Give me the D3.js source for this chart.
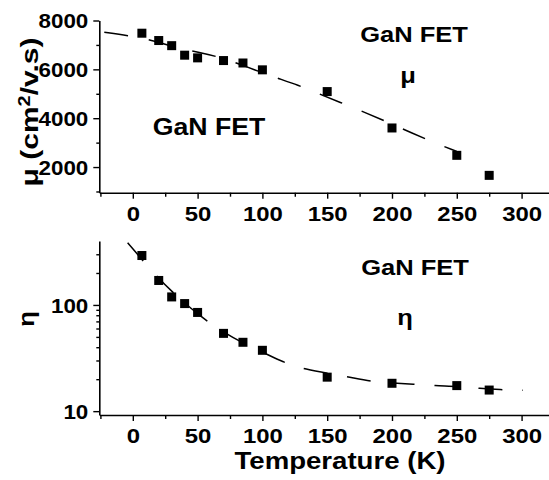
<!DOCTYPE html>
<html><head><meta charset="utf-8">
<script src="https://cdn.jsdelivr.net/npm/d3@7"></script>
<style>
body{margin:0;background:#fff;}
svg{display:block;}
text{font-family:"Liberation Sans",Arial,sans-serif;font-weight:bold;fill:#000;}
</style></head><body>
<svg id="c" width="549" height="480"></svg>
<script>
// ---- data ----
const temps = [7, 20, 30, 40, 50, 70, 85, 100, 150, 200, 250, 275];
const mobility = [7480, 7180, 6970, 6580, 6470, 6360, 6260, 5980, 5090, 3600, 2480, 1660];
const eta = [292, 170, 119, 103, 85, 54, 44.5, 37.4, 20.9, 18.3, 17.4, 15.8];
const fitTempsMu = [-22, -4, 15, 30, 52, 70, 88, 106, 129, 142, 160, 179, 197, 215, 233, 250];
const fitMu = [7520, 7380, 7200, 6930, 6690, 6460, 6100, 5740, 5330, 5030, 4650, 4240, 3830, 3400, 2990, 2640];
const fitTempsEta = [-4, 15, 30, 50, 66, 85, 100, 116, 133, 155, 168, 184, 201, 217, 233, 251, 268, 283, 301];
const fitEta = [385, 206, 133, 82, 59, 43.5, 36.2, 28.8, 24.7, 22.2, 20.8, 19.0, 18.3, 18.0, 17.4, 17.1, 16.4, 15.9, 15.7];
const xMajor = [0, 50, 100, 150, 200, 250, 300];
const xMinor = [-25, 25, 75, 125, 175, 225, 275];
const muMajor = [2000, 4000, 6000, 8000];
const muMinor = [1000, 3000, 5000, 7000];
const etaMajor = [10, 100];
const etaMinor = [20, 30, 40, 50, 60, 70, 80, 90, 200, 300];

const svg = d3.select('#c');
const x = d3.scaleLinear().domain([-25.7, 321]).range([99.5, 548.8]);
const y1 = d3.scaleLinear().domain([950, 8000]).range([192.7, 20.5]);
const y2 = d3.scaleLog().domain([9.2, 400]).range([415, 241]);

function styleAxis(g) {
  g.select('.domain').attr('stroke', '#000').attr('stroke-width', 1.6);
  g.selectAll('.tick line').attr('stroke', '#000').attr('stroke-width', 1.4);
}

function xAxis(yPos) {
  const g = svg.append('g').attr('transform', `translate(0,${yPos})`)
    .call(d3.axisBottom(x).tickValues(xMajor).tickSize(6).tickSizeOuter(0).tickFormat(d3.format('d')));
  styleAxis(g);
  g.selectAll('.tick text').attr('y', 28.5).attr('dy', 0).style('font-size', '21px')
    .attr('transform', 'scale(1.14,1)');
  const m = svg.append('g').attr('transform', `translate(0,${yPos})`)
    .call(d3.axisBottom(x).tickValues(xMinor).tickSize(4).tickSizeOuter(0).tickFormat(''));
  m.select('.domain').remove();
  styleAxis(m);
}

function yAxis(scale, major, minor) {
  const g = svg.append('g').attr('transform', 'translate(99.3,0)')
    .call(d3.axisLeft(scale).tickValues(major).tickSize(6).tickSizeOuter(0).tickFormat(d3.format('d')));
  styleAxis(g);
  g.selectAll('.tick text').attr('x', 0).attr('dy', '0.36em').style('font-size', '20px')
    .attr('transform', 'translate(-11,0) scale(1.12,1)');
  const m = svg.append('g').attr('transform', 'translate(99.3,0)')
    .call(d3.axisLeft(scale).tickValues(minor).tickSize(3).tickSizeOuter(0).tickFormat(''));
  m.select('.domain').remove();
  styleAxis(m);
}

xAxis(192.7);
xAxis(415);
yAxis(y1, muMajor, muMinor);
yAxis(y2, etaMajor, etaMinor);

// fit lines
const muFit = fitTempsMu.map((t, i) => ({ t, v: fitMu[i] }));
const etaFit = fitTempsEta.map((t, i) => ({ t, v: fitEta[i] }));
svg.append('path').datum(muFit)
  .attr('d', d3.line().x(d => x(d.t)).y(d => y1(d.v)).curve(d3.curveBasis))
  .attr('fill', 'none').attr('stroke', '#000').attr('stroke-width', 1.5).attr('stroke-dasharray', '24,21');
svg.append('path').datum(etaFit)
  .attr('d', d3.line().x(d => x(d.t)).y(d => y2(d.v)).curve(d3.curveBasis))
  .attr('fill', 'none').attr('stroke', '#000').attr('stroke-width', 1.5).attr('stroke-dasharray', '24,20');

// markers
const S = 9;
svg.append('g').selectAll('rect').data(temps.map((t, i) => ({ t, v: mobility[i] }))).join('rect')
  .attr('x', d => x(d.t) - S / 2).attr('y', d => y1(d.v) - S / 2).attr('width', S).attr('height', S).attr('fill', '#000');
svg.append('g').selectAll('rect').data(temps.map((t, i) => ({ t, v: eta[i] }))).join('rect')
  .attr('x', d => x(d.t) - S / 2).attr('y', d => y2(d.v) - S / 2).attr('width', S).attr('height', S).attr('fill', '#000');

// text
function label(txt, px, py, size, sx) {
  return svg.append('text').attr('transform', `translate(${px},${py}) scale(${sx},1)`)
    .attr('text-anchor', 'middle').style('font-size', size + 'px').text(txt);
}
label('GaN FET', 414, 42, 22, 1.16);
label('μ', 408, 83, 22, 1.16);
label('GaN FET', 209, 135, 23, 1.16);
label('GaN FET', 415, 275, 22, 1.16);
label('η', 405, 325, 22, 1.16);
label('Temperature (K)', 340, 468.5, 23, 1.2);

const t1 = svg.append('text').attr('transform', 'translate(38,112) rotate(-90) scale(1.25,1)')
  .attr('text-anchor', 'middle').style('font-size', '24px');
t1.append('tspan').text('μ (cm');
t1.append('tspan').attr('dy', -8).style('font-size', '16px').text('2');
t1.append('tspan').attr('dy', 8).text('/v.s)');

svg.append('text').attr('transform', 'translate(34,319) rotate(-90) scale(1.16,1)')
  .attr('text-anchor', 'middle').style('font-size', '22px').text('η');
</script>
</body></html>
